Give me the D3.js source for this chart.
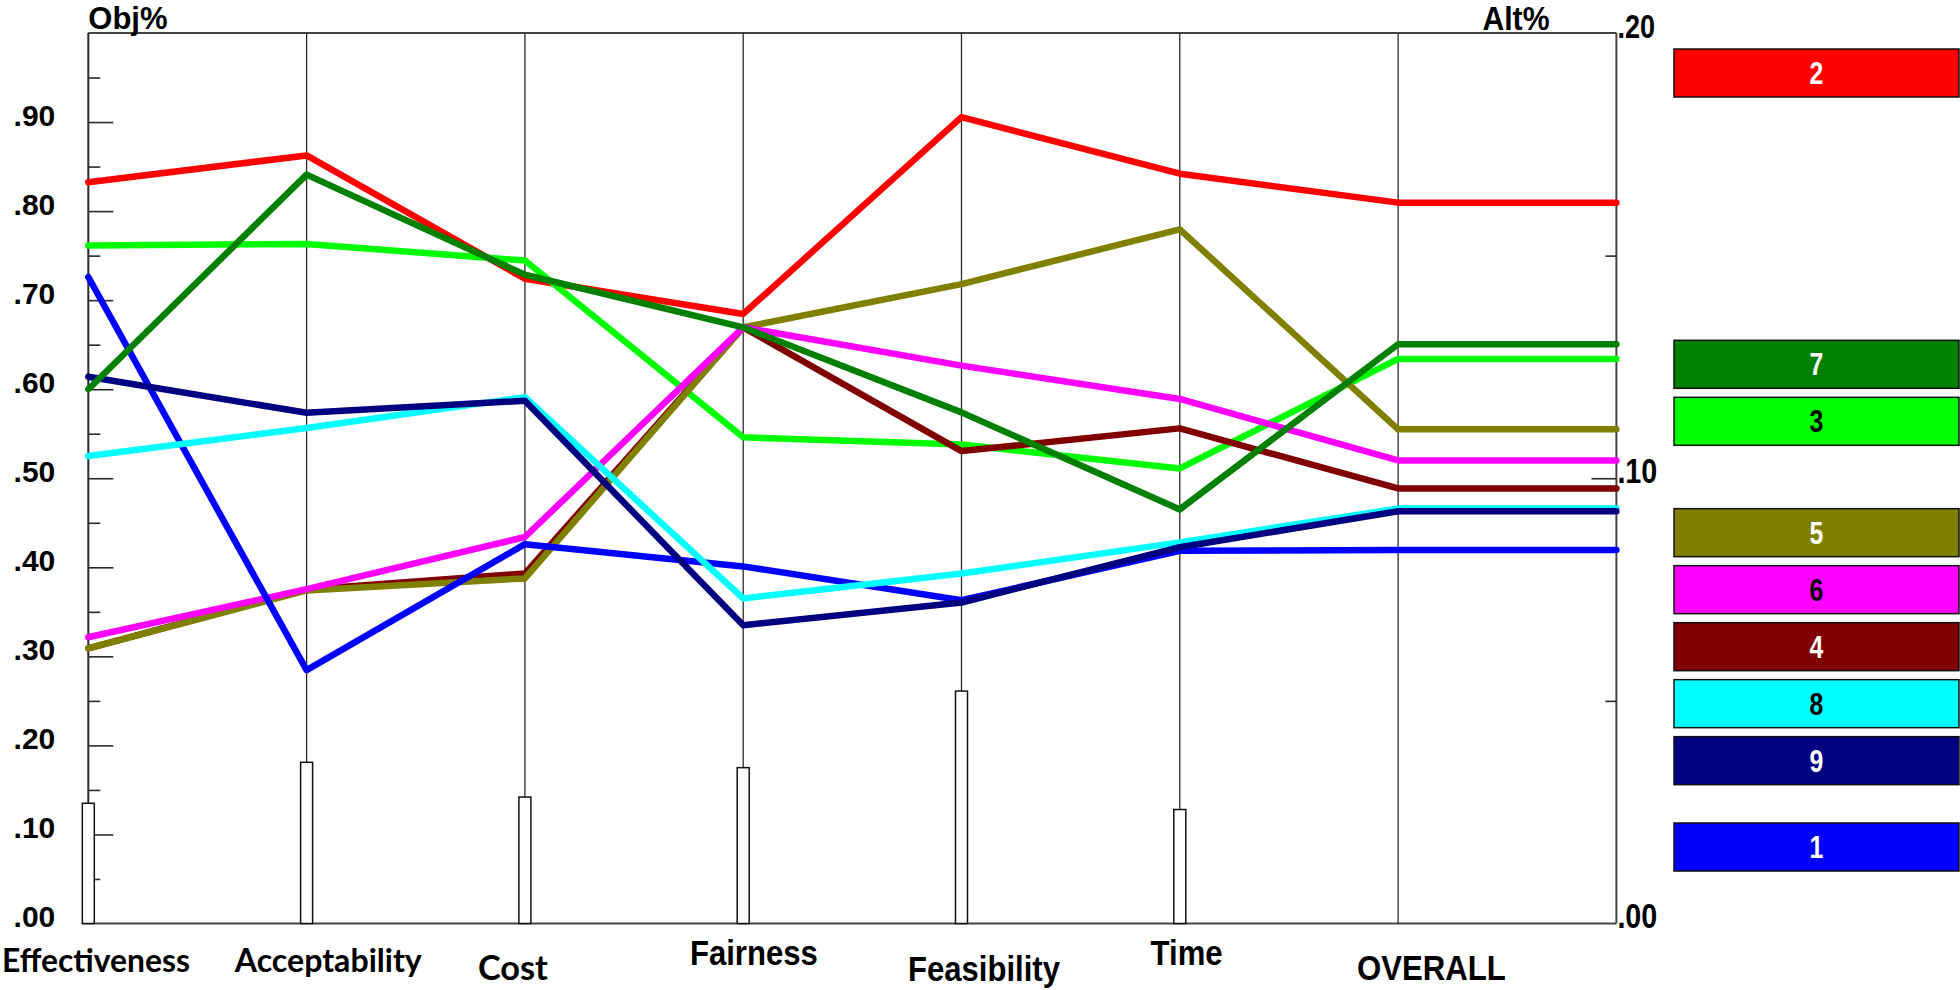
<!DOCTYPE html>
<html><head><meta charset="utf-8">
<script src="https://cdn.jsdelivr.net/npm/d3@7/dist/d3.min.js"></script>
<style>body{margin:0;background:#fff;} svg{display:block;}</style>
</head><body>
<svg id="c" width="1960" height="990"></svg>
<script>
// ---------------- data ----------------
const categories = ["Effectiveness", "Acceptability", "Cost", "Fairness", "Feasibility", "Time", "OVERALL"];
const objWeights = [0.135, 0.181, 0.142, 0.175, 0.261, 0.128];   // Obj% bars (left scale)
const alternatives = ["1", "2", "3", "4", "5", "6", "7", "8", "9"];
// Alt% values per category (right scale), last value = OVERALL
const alt1 = [0.1452, 0.0569, 0.0852, 0.0802, 0.0726, 0.0837, 0.0839];
const alt2 = [0.1665, 0.1725, 0.1448, 0.1369, 0.1811, 0.1684, 0.1619];
const alt3 = [0.1523, 0.1526, 0.1489, 0.1092, 0.1076, 0.1022, 0.1268];
const alt4 = [0.0618, 0.0750, 0.0786, 0.1339, 0.1061, 0.1112, 0.0977];
const alt5 = [0.0618, 0.0748, 0.0775, 0.1339, 0.1436, 0.1559, 0.1110];
const alt6 = [0.0643, 0.0751, 0.0868, 0.1339, 0.1253, 0.1178, 0.1040];
const alt7 = [0.1200, 0.1682, 0.1457, 0.1339, 0.1148, 0.0930, 0.1301];
const alt8 = [0.1050, 0.1113, 0.1182, 0.0730, 0.0786, 0.0856, 0.0932];
const alt9 = [0.1228, 0.1147, 0.1174, 0.0670, 0.0721, 0.0845, 0.0926];
const seriesValues = [alt1, alt2, alt3, alt4, alt5, alt6, alt7, alt8, alt9];
const leftTickLabels = [".00", ".10", ".20", ".30", ".40", ".50", ".60", ".70", ".80", ".90"];
const rightTickLabels = [".00", ".10", ".20"];

// ---------------- styles ----------------
const altColors = ["#0000ff", "#ff0000", "#00ff00", "#800000", "#808000", "#ff00ff", "#008000", "#00ffff", "#000080"];
const altTextColors = ["#fff", "#fff", "#000", "#fff", "#fff", "#000", "#fff", "#000", "#fff"];
const drawOrder = ["2", "3", "4", "5", "6", "1", "8", "9", "7"];

// ---------------- layout ----------------
const svg = d3.select("#c");
const x = d3.scalePoint().domain(categories).range([88.3, 1398.1]);
const xEnd = x(categories[categories.length - 1]) + x.step();
const yObj = d3.scaleLinear().domain([0, 1]).range([923.5, 33]);
const yAlt = d3.scaleLinear().domain([0, 0.2]).range([923.5, 33]);
const axisColor = "#2a2a2a";
const ARIAL = "'Liberation Sans', Arial, sans-serif";

// frame
svg.append("line").attr("x1", x(categories[0])).attr("x2", xEnd).attr("y1", yObj(1)).attr("y2", yObj(1))
  .attr("stroke", "#444").attr("stroke-width", 2);
svg.append("line").attr("x1", x(categories[0]) - 6).attr("x2", xEnd).attr("y1", yObj(0)).attr("y2", yObj(0))
  .attr("stroke", "#444").attr("stroke-width", 2);

// vertical category lines
svg.append("g").selectAll("line").data(categories.slice(1)).join("line")
  .attr("x1", d => x(d)).attr("x2", d => x(d)).attr("y1", yObj(1)).attr("y2", yObj(0))
  .attr("stroke", axisColor).attr("stroke-width", 1.3);
svg.append("line").attr("x1", x(categories[0])).attr("x2", x(categories[0])).attr("y1", yObj(1)).attr("y2", yObj(0))
  .attr("stroke", axisColor).attr("stroke-width", 2);
svg.append("line").attr("x1", xEnd).attr("x2", xEnd).attr("y1", yObj(1)).attr("y2", yObj(0))
  .attr("stroke", "#444").attr("stroke-width", 2);

// left axis ticks (inside)
const leftMajor = d3.range(1, 10).map(i => i / 10);
const leftMinor = d3.range(0, 10).map(i => i / 10 + 0.05);
function styleTicks(g) { g.select(".domain").remove(); g.selectAll("line").attr("stroke", axisColor).attr("stroke-width", 1.6); }
svg.append("g").attr("transform", `translate(${x(categories[0])},0)`)
  .call(d3.axisRight(yObj).tickValues(leftMajor).tickSize(25).tickFormat("")).call(styleTicks);
svg.append("g").attr("transform", `translate(${x(categories[0])},0)`)
  .call(d3.axisRight(yObj).tickValues(leftMinor).tickSize(12).tickFormat("")).call(styleTicks);
// left labels
const leftLab = svg.append("g").attr("transform", `translate(${x(categories[0])},0)`)
  .call(d3.axisLeft(yObj).tickValues(d3.range(0, 10).map(i => i / 10)).tickSize(0).tickPadding(33)
    .tickFormat((d, i) => leftTickLabels[i]));
leftLab.select(".domain").remove();
leftLab.selectAll("text").attr("dy", "3").attr("fill", "#000")
  .style("font-family", ARIAL).style("font-weight", "bold").style("font-size", "30px");

// right axis ticks (inside)
svg.append("g").attr("transform", `translate(${xEnd},0)`)
  .call(d3.axisLeft(yAlt).tickValues([0.1]).tickSize(25).tickFormat("")).call(styleTicks);
svg.append("g").attr("transform", `translate(${xEnd},0)`)
  .call(d3.axisLeft(yAlt).tickValues([0.05, 0.15]).tickSize(11).tickFormat("")).call(styleTicks);
const rightLab = svg.append("g").attr("transform", `translate(${xEnd},0)`)
  .call(d3.axisRight(yAlt).tickValues([0, 0.1, 0.2]).tickSize(0).tickPadding(0)
    .tickFormat((d, i) => rightTickLabels[i]));
rightLab.select(".domain").remove();
rightLab.selectAll("text").each(function (d) {
  const t = d3.select(this);
  t.attr("x", 0).attr("dy", 4).attr("text-anchor", "start")
   .attr("transform", "translate(1,0) scale(0.82,1)").attr("fill", "#000")
   .style("font-family", ARIAL).style("font-weight", "bold").style("font-size", d === 0.2 ? "33px" : "35px");
});

// titles
svg.append("text").attr("x", x(categories[0])).attr("y", 29).text("Obj%")
  .style("font-family", ARIAL).style("font-weight", "bold").style("font-size", "31px");
svg.append("text").attr("transform", `translate(${xEnd - 134},29.5) scale(0.93,1)`).text("Alt%")
  .style("font-family", ARIAL).style("font-weight", "bold").style("font-size", "32.5px");

// category labels (staggered as in reference)
const labelLayout = [
  { font: "Lato, 'Noto Sans', sans-serif", size: 33, dx: 7.7, base: 972, w: 188 },
  { font: "Lato, 'Noto Sans', sans-serif", size: 33, dx: 21.7, base: 972, w: 187 },
  { font: "Lato, 'Noto Sans', sans-serif", size: 34, dx: -12, base: 980, w: 70 },
  { font: ARIAL, size: 35, dx: 10.7, base: 965, w: 128 },
  { font: ARIAL, size: 35, dx: 22.5, base: 981, w: 152 },
  { font: ARIAL, size: 35, dx: 6.8, base: 965, w: 72 },
  { font: ARIAL, size: 35, dx: 33.3, base: 980, w: 149 }
];
svg.append("g").selectAll("text").data(categories).join("text")
  .attr("x", (d, i) => x(d) + labelLayout[i].dx)
  .attr("y", (d, i) => labelLayout[i].base)
  .attr("text-anchor", "middle")
  .attr("textLength", (d, i) => labelLayout[i].w)
  .attr("lengthAdjust", "spacingAndGlyphs")
  .style("font-family", (d, i) => labelLayout[i].font)
  .style("font-size", (d, i) => labelLayout[i].size + "px")
  .style("font-weight", "bold")
  .attr("fill", "#000")
  .text(d => d);

// objective weight bars
const barW = 12;
svg.append("g").selectAll("rect").data(objWeights).join("rect")
  .attr("x", (d, i) => x(categories[i]) - barW / 2)
  .attr("y", d => yObj(d))
  .attr("width", barW)
  .attr("height", d => yObj(0) - yObj(d))
  .attr("fill", "#fff").attr("stroke", "#111").attr("stroke-width", 1.5);

// alternative lines
const line = d3.line().x(d => d[0]).y(d => d[1]);
const gLines = svg.append("g");
drawOrder.forEach(name => {
  const i = alternatives.indexOf(name);
  const vals = seriesValues[i];
  const pts = vals.map((v, k) => [x(categories[k]), yAlt(v)]);
  pts.push([xEnd, yAlt(vals[vals.length - 1])]);
  gLines.append("path").datum(pts).attr("d", line)
    .attr("fill", "none").attr("stroke", altColors[i]).attr("stroke-width", 6.5)
    .attr("stroke-linejoin", "round").attr("stroke-linecap", "round");
});

// legend boxes, ordered by OVERALL value, de-overlapped
const overall = seriesValues.map(s => s[s.length - 1]);
const order = d3.range(alternatives.length).sort((a, b) => overall[b] - overall[a]);
const yLeg = d3.scaleLinear().domain([overall[order[0]], overall[order[order.length - 1]]]).range([73, 847]);
const centers = order.map(i => yLeg(overall[i]));
const gap = 57;
for (let k = centers.length - 2; k >= 0; k--) centers[k] = Math.min(centers[k], centers[k + 1] - gap);
const legX = 1674, legW = 285, legH = 48;
const gLeg = svg.append("g");
order.forEach((i, k) => {
  gLeg.append("rect").attr("x", legX).attr("y", centers[k] - legH / 2).attr("width", legW).attr("height", legH)
    .attr("fill", altColors[i]).attr("stroke", "#111").attr("stroke-width", 1.5);
  gLeg.append("text").attr("transform", `translate(${legX + legW / 2},${centers[k] + 11}) scale(0.8,1)`)
    .attr("text-anchor", "middle").attr("fill", altTextColors[i])
    .style("font-family", ARIAL).style("font-weight", "bold").style("font-size", "31px")
    .text(alternatives[i]);
});
</script>
</body></html>
